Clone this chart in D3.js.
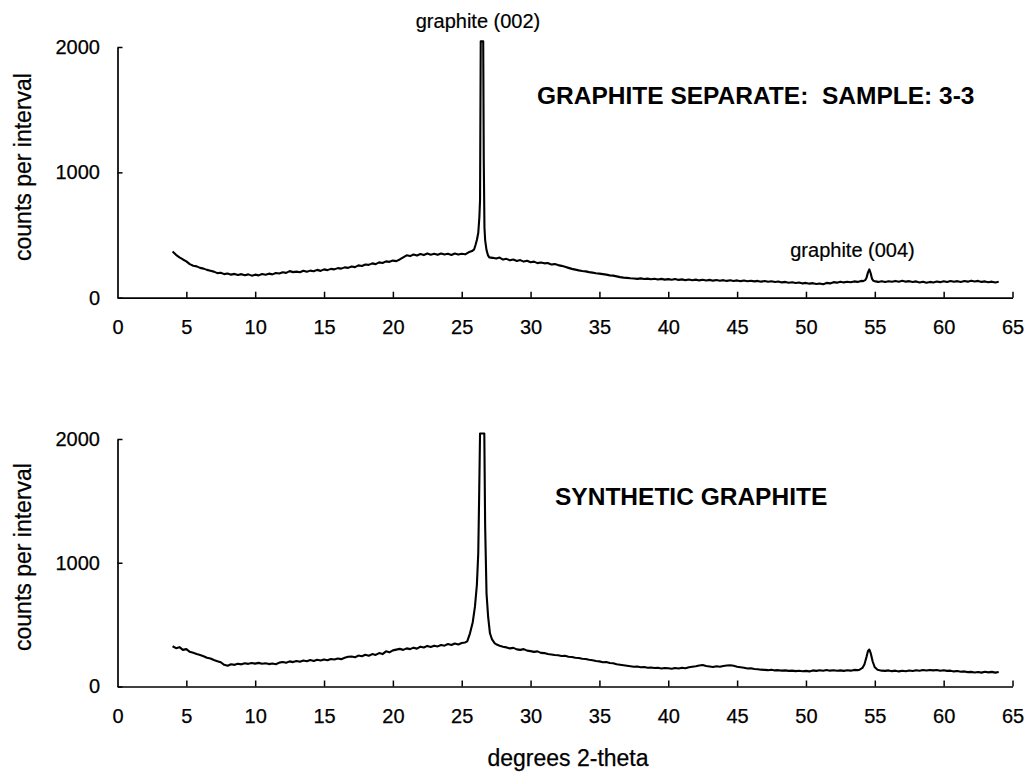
<!DOCTYPE html>
<html>
<head>
<meta charset="utf-8">
<script src="https://cdn.jsdelivr.net/npm/d3@7"></script>
<style>
  html, body { margin: 0; padding: 0; background: #fff; }
  svg { display: block; }
  text { font-family: "Liberation Sans", Arial, Helvetica, sans-serif; fill: #000; }
</style>
</head>
<body>
<svg id="chart" width="1034" height="773"></svg>
<script>
// ---------- data ----------
const thetaStart = 4;
const thetaStep = 0.25;

// counts on a 0.25-degree grid from 4.00 to 64.00 (null = replaced by peak detail)
const countsTop = [
  368, 342, 322, 305,   // 4
  290, 268, 255, 250,   // 5
  238, 232, 222, 215,   // 6
  208, 196, 199, 188,   // 7
  193, 184, 190, 181,   // 8
  188, 179, 186, 176,   // 9
  184, 178, 189, 183,   // 10
  192, 186, 197, 193,   // 11
  203, 198, 212, 204,   // 12
  208, 203, 215, 207,   // 13
  216, 211, 222, 214,   // 14
  226, 220, 230, 226,   // 15
  236, 232, 242, 238,   // 16
  249, 244, 258, 253,   // 17
  265, 262, 274, 268,   // 18
  282, 277, 290, 286,   // 19
  296, 292, 305, 322,   // 20
  338, 332, 345, 336,   // 21
  348, 340, 352, 343,   // 22
  350, 342, 353, 345,   // 23
  350, 341, 352, 344,   // 24
  350, 346, 362, 372,   // 25
  null, null, null, null, // 26
  null, 318, 312, 320,  // 27
  304, 310, 298, 305,   // 28
  293, 300, 288, 295,   // 29
  283, 288, 276, 281,   // 30
  274, 277, 265, 268,   // 31
  260, 254, 246, 238,   // 32
  230, 224, 218, 213,   // 33
  210, 204, 200, 195,   // 34
  192, 188, 184, 178,   // 35
  176, 170, 164, 160,   // 36
  158, 155, 153, 150,   // 37
  154, 149, 152, 147,   // 38
  151, 145, 150, 144,   // 39
  148, 143, 149, 142,   // 40
  146, 140, 145, 139,   // 41
  144, 138, 143, 137,   // 42
  142, 136, 141, 135,   // 43
  140, 134, 139, 133,   // 44
  138, 132, 137, 131,   // 45
  135, 130, 134, 128,   // 46
  133, 127, 131, 125,   // 47
  129, 122, 126, 119,   // 48
  123, 117, 121, 114,   // 49
  118, 112, 116, 109,   // 50
  113, 108, 118, 114,   // 51
  124, 120, 128, 122,   // 52
  127, 123, 130, 126,   // 53
  134, null, null, null, // 54
  null, 126, 132, 125,  // 55
  131, 127, 134, 128,   // 56
  135, 128, 132, 125,   // 57
  130, 122, 128, 120,   // 58
  126, 121, 129, 124,   // 59
  131, 125, 133, 127,   // 60
  132, 126, 133, 128,   // 61
  136, 129, 134, 126,   // 62
  130, 123, 128, 121,   // 63
  127                   // 64
];
const peakThetaTop  = [25.9, 26.0, 26.1, 26.2, 26.28, 26.33, 26.38, 26.56, 26.6, 26.65, 26.7, 26.8, 26.9, 27.0,
                       54.15, 54.3, 54.4, 54.5, 54.6, 54.7, 54.8, 54.9, 55.05];
const peakCountsTop = [385, 420, 460, 516, 640, 780, 2045, 2045, 1100, 560, 460, 380, 340, 322,
                       132, 140, 160, 200, 226, 195, 150, 135, 130];

const countsBottom = [
  325, 310, 318, 296,   // 4
  302, 280, 272, 262,   // 5
  255, 245, 232, 226,   // 6
  214, 205, 196, 175,   // 7
  168, 180, 175, 184,   // 8
  179, 188, 183, 190,   // 9
  185, 191, 184, 188,   // 10
  181, 186, 180, 193,   // 11
  198, 192, 203, 197,   // 12
  206, 200, 210, 204,   // 13
  214, 206, 216, 210,   // 14
  219, 212, 222, 218,   // 15
  226, 221, 232, 240,   // 16
  243, 236, 250, 244,   // 17
  256, 248, 262, 255,   // 18
  270, 262, 284, 276,   // 19
  292, 298, 304, 296,   // 20
  308, 302, 314, 306,   // 21
  322, 315, 328, 320,   // 22
  330, 324, 336, 330,   // 23
  343, 335, 348, 340,   // 24
  352, 356, null, null, // 25
  null, null, null, null, // 26
  null, null, 342, 330, // 27
  322, 316, 308, 312,   // 28
  300, 296, 302, 290,   // 29
  286, 280, 284, 272,   // 30
  270, 262, 258, 254,   // 31
  252, 246, 248, 240,   // 32
  238, 232, 230, 224,   // 33
  222, 216, 212, 206,   // 34
  203, 196, 198, 190,   // 35
  188, 180, 176, 172,   // 36
  168, 164, 160, 162,   // 37
  156, 158, 152, 154,   // 38
  150, 152, 146, 150,   // 39
  147, 144, 150, 146,   // 40
  152, 148, 156, 160,   // 41
  164, 170, 174, 166,   // 42
  162, 158, 164, 160,   // 43
  166, 170, 172, 168,   // 44
  160, 156, 152, 146,   // 45
  148, 142, 140, 136,   // 46
  134, 132, 136, 130,   // 47
  132, 128, 130, 126,   // 48
  128, 124, 127, 123,   // 49
  126, 122, 130, 126,   // 50
  131, 127, 133, 128,   // 51
  132, 127, 130, 126,   // 52
  131, 128, 134, 132,   // 53
  null, null, null, null, // 54
  null, null, null, 126, // 55
  130, 124, 128, 122,   // 56
  127, 123, 129, 125,   // 57
  131, 127, 133, 129,   // 58
  134, 130, 133, 127,   // 59
  131, 126, 128, 122,   // 60
  125, 119, 122, 116,   // 61
  118, 113, 117, 112,   // 62
  119, 114, 118, 112,   // 63
  117                   // 64
];
const peakThetaBottom  = [25.4, 25.6, 25.8, 25.96, 26.1, 26.2, 26.26, 26.33, 26.64, 26.7, 26.8, 26.92, 27.05, 27.2, 27.4,
                          53.9, 54.1, 54.25, 54.4, 54.5, 54.6, 54.7, 54.85, 55.0, 55.2, 55.5];
const peakCountsBottom = [365, 430, 520, 645, 820, 1077, 1500, 2045, 2045, 1300, 753, 560, 430, 380, 349,
                          136, 150, 180, 240, 285, 299, 270, 200, 155, 135, 128];

const xTicks = [0, 5, 10, 15, 20, 25, 30, 35, 40, 45, 50, 55, 60, 65];
const yTicks = [0, 1000, 2000];

const panelTitles = ["GRAPHITE SEPARATE:  SAMPLE: 3-3", "SYNTHETIC GRAPHITE"];
const peakLabels = ["graphite (002)", "graphite (004)"];
const yTitle = "counts per interval";
const xTitle = "degrees 2-theta";

// ---------- drawing ----------
function buildSeries(grid, pTheta, pCounts) {
  const pts = [];
  grid.forEach((c, i) => { if (c !== null) pts.push({ t: thetaStart + i * thetaStep, c: c }); });
  pTheta.forEach((t, i) => pts.push({ t: t, c: pCounts[i] }));
  pts.sort((a, b) => a.t - b.t);
  return pts;
}

const svg = d3.select("#chart");
const x = d3.scaleLinear().domain([0, 65]).range([117.5, 1012.5]);

const panels = [
  { series: buildSeries(countsTop, peakThetaTop, peakCountsTop), y0: 297.7, y1: 47, title: panelTitles[0], tx: 537, ty: 103.5, yTitleY: 167 },
  { series: buildSeries(countsBottom, peakThetaBottom, peakCountsBottom), y0: 686.5, y1: 439, title: panelTitles[1], tx: 555, ty: 505, yTitleY: 557 }
];

panels.forEach(p => {
  const y = d3.scaleLinear().domain([0, 2000]).range([p.y0, p.y1]);
  const g = svg.append("g");

  // x axis
  const xa = g.append("g")
    .attr("transform", `translate(0,${p.y0})`)
    .call(d3.axisBottom(x).tickValues(xTicks).tickSizeInner(-6).tickSizeOuter(0).tickPadding(22).tickFormat(d3.format("d")));
  // y axis
  const ya = g.append("g")
    .attr("transform", `translate(${x(0)},0)`)
    .call(d3.axisLeft(y).tickValues(yTicks).tickSizeInner(-5).tickSizeOuter(0).tickPadding(17.5).tickFormat(d3.format("d")));

  [xa, ya].forEach(a => {
    a.select(".domain").attr("stroke", "#000").attr("stroke-width", 1.7);
    a.selectAll(".tick line").attr("stroke", "#000").attr("stroke-width", 1.5);
    a.selectAll(".tick text").style("font-size", "20px").attr("fill", "#000")
      .attr("stroke", "#000").attr("stroke-width", 0.25);
  });
  xa.selectAll(".tick").filter(d => d === 0).select("line").remove();

  // curve
  const line = d3.line().x(d => x(d.t)).y(d => y(d.c));
  g.append("path")
    .datum(p.series)
    .attr("d", line)
    .attr("fill", "none")
    .attr("stroke", "#000")
    .attr("stroke-width", 2.1)
    .attr("stroke-linejoin", "round");

  // panel title
  g.append("text")
    .attr("x", p.tx).attr("y", p.ty)
    .style("font-size", "24.5px").style("font-weight", "bold")
    .style("white-space", "pre")
    .text(p.title);

  // y title
  g.append("text")
    .attr("transform", `translate(31,${p.yTitleY}) rotate(-90)`)
    .attr("text-anchor", "middle")
    .style("font-size", "23px")
    .attr("stroke", "#000").attr("stroke-width", 0.25)
    .text(yTitle);
});

// peak labels (top panel)
svg.append("text").attr("x", 478).attr("y", 27.5).attr("text-anchor", "middle")
  .style("font-size", "20px").attr("stroke", "#000").attr("stroke-width", 0.2).text(peakLabels[0]);
svg.append("text").attr("x", 852.5).attr("y", 257).attr("text-anchor", "middle")
  .style("font-size", "20px").attr("stroke", "#000").attr("stroke-width", 0.2).text(peakLabels[1]);

// x title
svg.append("text").attr("x", 568).attr("y", 766).attr("text-anchor", "middle")
  .style("font-size", "23px").attr("stroke", "#000").attr("stroke-width", 0.25).text(xTitle);
</script>
</body>
</html>
